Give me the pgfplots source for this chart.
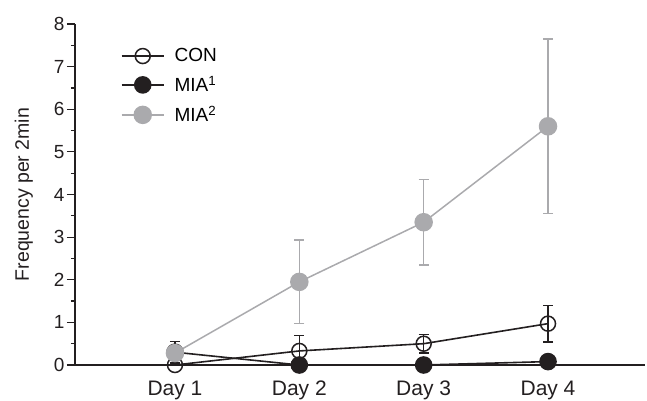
\documentclass[border=0pt]{standalone}
\usepackage{fontspec}
\setmainfont{Liberation Sans}
\usepackage{pgfplots}
\pgfplotsset{compat=1.18}
\usetikzlibrary{calc}
\definecolor{miagray}{RGB}{170,170,173}
\definecolor{ink}{RGB}{35,31,32}

\begin{document}
\begin{tikzpicture}
\begin{axis}[
    name=ax,
    at={(0,0)}, anchor=south west,
    scale only axis,
    width=570pt, height=341pt,
    xmin=0.196, xmax=4.78,
    ymin=0, ymax=8,
    clip=false,
    axis x line=bottom, axis y line=left,
    axis line style={-, line width=1.6pt, ink},
    xtick={1,2,3,4},
    xticklabels={Day 1,Day 2,Day 3,Day 4},
    x tick style={draw=none},
    xticklabel style={font=\fontsize{21}{24}\selectfont, text=ink, yshift=-4.5pt},
    ytick={0,1,...,8},
    minor y tick num=1,
    y tick style={line width=1.2pt, ink},
    tick align=outside,
    major tick length=8pt, minor tick length=4pt,
    yticklabel style={font=\fontsize{19}{22}\selectfont, text=ink, xshift=1pt},
    /pgf/number format/assume math mode=true,
    ylabel={Frequency per 2min},
    ylabel style={font=\fontsize{19.5}{22}\selectfont, text=ink, yshift=14pt},
    legend style={at={(0.075,0.94)}, anchor=north west, draw=none, fill=none,
        font=\fontsize{19}{22}\selectfont, row sep=9pt,
        nodes={inner xsep=0pt},
        /tikz/every odd column/.append style={column sep=10pt}},
    legend cell align=left,
    legend image code/.code={
        \draw[mark repeat=2, mark phase=2, #1] plot coordinates {(0pt,0pt) (21pt,0pt) (42pt,0pt)};},
    error bars/y dir=both, error bars/y explicit,
]
\addplot[ink, line width=1.6pt, mark=o, mark size=7.5pt, mark options={fill=white, line width=1.5pt},
    error bars/error bar style={line width=1.5pt, ink},
    error bars/error mark options={rotate=90, mark size=5pt, line width=1.5pt}]
    coordinates {
    (1,0) +- (0,0)
    (2,0.33) +- (0,0.36)
    (3,0.50) +- (0,0.22)
    (4,0.97) +- (0,0.43)
    };
\addlegendentry{CON}
\addplot[ink, line width=1.6pt, mark=*, mark size=8pt, mark options={fill=ink, draw=ink},
    error bars/error bar style={line width=1.5pt, ink},
    error bars/error mark options={rotate=90, mark size=5pt, line width=1.5pt}]
    coordinates {
    (1,0.30) +- (0,0.25)
    (2,0) +- (0,0)
    (3,0) +- (0,0)
    (4,0.08) +- (0,0)
    };
\addlegendentry{MIA\textsuperscript{1}}
\addplot[miagray, line width=1.5pt, mark=*, mark size=8.5pt, mark options={fill=miagray, draw=miagray},
    error bars/error bar style={line width=1.5pt, miagray},
    error bars/error mark options={rotate=90, mark size=5pt, line width=1.5pt}]
    coordinates {
    (1,0.28) +- (0,0.18)
    (2,1.95) +- (0,0.98)
    (3,3.35) +- (0,1.00)
    (4,5.60) +- (0,2.05)
    };
\addlegendentry{MIA\textsuperscript{2}}
\end{axis}
\pgfresetboundingbox
\path ($(ax.south west)+(-75pt,-36pt)$) rectangle ($(ax.south west)+(572pt,365pt)$);
\end{tikzpicture}
\end{document}
